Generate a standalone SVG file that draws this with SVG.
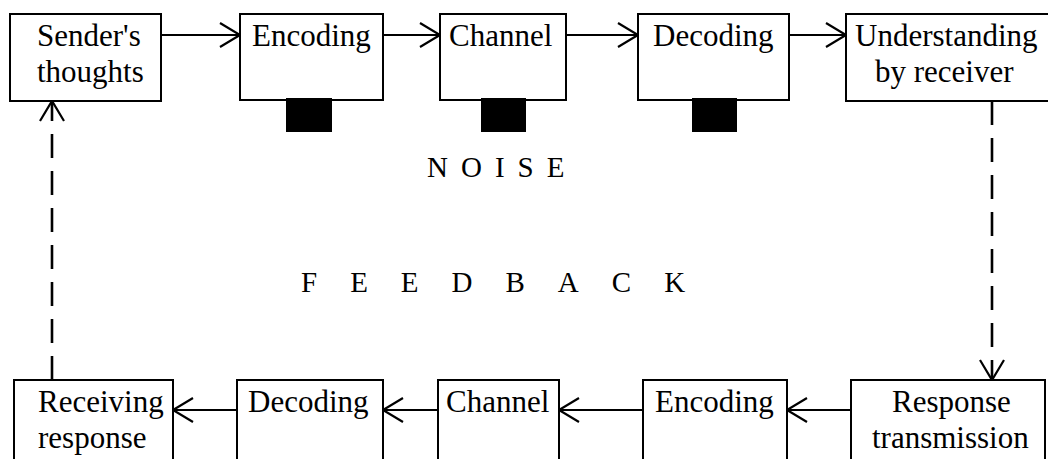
<svg xmlns="http://www.w3.org/2000/svg" width="1048" height="459" viewBox="0 0 1048 459">
<style>
.box{fill:#fff;stroke:#000;stroke-width:2}
.t{font-family:"Liberation Serif","Times New Roman",serif;font-size:31px;fill:#000}
.line{fill:none;stroke:#000;stroke-width:1.8}
.dash{fill:none;stroke:#000;stroke-width:2.6;stroke-dasharray:24 13}
.noise{fill:#000}
.big{font-family:"Liberation Serif","Times New Roman",serif;font-size:29px;fill:#000}
</style>
<defs>
<marker id="ah" markerUnits="userSpaceOnUse" markerWidth="30" markerHeight="30" refX="22" refY="13" orient="auto">
<path d="M2,1 L22,13 L2,25" fill="none" stroke="#000" stroke-width="2.2"/>
</marker>
</defs>
<rect width="1048" height="459" fill="#fff"/>
<g id="connectors">
<line class="line" x1="161" y1="35" x2="240" y2="35" marker-end="url(#ah)"/>
<line class="line" x1="383" y1="35" x2="440" y2="35" marker-end="url(#ah)"/>
<line class="line" x1="566" y1="35" x2="638" y2="35" marker-end="url(#ah)"/>
<line class="line" x1="789" y1="35" x2="846" y2="35" marker-end="url(#ah)"/>
<line class="line" x1="237" y1="410" x2="173" y2="410" marker-end="url(#ah)"/>
<line class="line" x1="438" y1="410" x2="383" y2="410" marker-end="url(#ah)"/>
<line class="line" x1="643" y1="410" x2="559" y2="410" marker-end="url(#ah)"/>
<line class="line" x1="851" y1="410" x2="787" y2="410" marker-end="url(#ah)"/>
<line class="dash" x1="992" y1="101" x2="992" y2="380" marker-end="url(#ah)"/>
<line class="dash" x1="52" y1="380" x2="52" y2="101" marker-end="url(#ah)"/>
</g>
<g id="sender">
<rect class="box" x="10" y="14" width="151" height="87"/>
<text class="t" x="37" y="46">Sender's</text>
<text class="t" x="37" y="82">thoughts</text>
</g>
<g id="encoding1">
<rect class="box" x="240" y="14" width="143" height="86"/>
<text class="t" x="252" y="46">Encoding</text>
<rect class="noise" x="286" y="98" width="46" height="34"/>
</g>
<g id="channel1">
<rect class="box" x="440" y="14" width="126" height="86"/>
<text class="t" x="449" y="46">Channel</text>
<rect class="noise" x="481" y="98" width="45" height="34"/>
</g>
<g id="decoding1">
<rect class="box" x="638" y="14" width="151" height="86"/>
<text class="t" x="653" y="46">Decoding</text>
<rect class="noise" x="692" y="98" width="45" height="34"/>
</g>
<g id="understanding">
<rect class="box" x="846" y="14" width="210" height="87"/>
<text class="t" x="855" y="46">Understanding</text>
<text class="t" x="875" y="82">by receiver</text>
</g>
<g id="receiving">
<rect class="box" x="14" y="380" width="159" height="90"/>
<text class="t" x="38" y="412">Receiving</text>
<text class="t" x="38" y="448">response</text>
</g>
<g id="decoding2">
<rect class="box" x="237" y="380" width="146" height="90"/>
<text class="t" x="248" y="412">Decoding</text>
</g>
<g id="channel2">
<rect class="box" x="438" y="380" width="121" height="90"/>
<text class="t" x="446" y="412">Channel</text>
</g>
<g id="encoding2">
<rect class="box" x="643" y="380" width="144" height="90"/>
<text class="t" x="655" y="412">Encoding</text>
</g>
<g id="response">
<rect class="box" x="851" y="380" width="194" height="90"/>
<text class="t" x="892" y="412">Response</text>
<text class="t" x="872" y="448">transmission</text>
</g>
<text class="big" x="427" y="177" letter-spacing="13">NOISE</text>
<text class="big" x="301" y="292" letter-spacing="33">FEEDBACK</text>
</svg>
